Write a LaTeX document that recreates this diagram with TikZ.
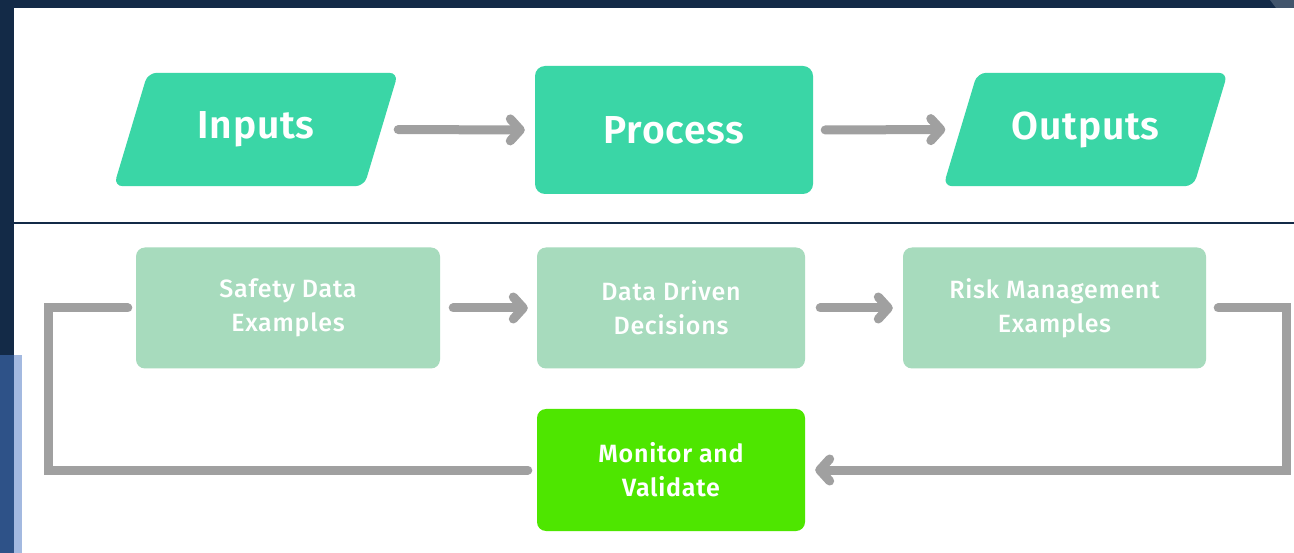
\documentclass[tikz,border=0pt]{standalone}
\usepackage{fontspec}
\setmainfont{Fira Sans}
\newfontfamily\semifont{Fira Sans SemiBold}
\newfontfamily\medfont{Fira Sans Medium}
\usepackage{tikz}
\usetikzlibrary{calc, arrows.meta, backgrounds}
\definecolor{navy}{HTML}{132A47}
\definecolor{midblue}{HTML}{2E5288}
\definecolor{paleblue}{HTML}{A3B9E0}
\definecolor{teal}{HTML}{3AD6A6}
\definecolor{mint}{HTML}{A7DBBD}
\definecolor{lime}{HTML}{4EE600}
\definecolor{pipe}{HTML}{A0A0A0}
\newcommand{\bigtxt}{\fontsize{39}{48}\semifont\addfontfeatures{LetterSpace=2}}
\newcommand{\smalltxt}{\fontsize{25}{34}\medfont\addfontfeatures{LetterSpace=3}}

\tikzset{
    slantbox/.style={rectangle, minimum width=250pt, minimum height=113pt,
        text=white, inner sep=0pt, font=\bigtxt},
    bigbox/.style={rectangle, rounded corners=10pt, fill=teal, text=white,
        minimum width=278pt, minimum height=128pt, font=\bigtxt},
    stepbox/.style={rectangle, rounded corners=9pt, fill=mint, text=white,
        minimum height=121pt, align=center, font=\smalltxt},
    flow/.style={draw=pipe, line width=9pt, line cap=round, line join=miter,
        -{Straight Barb[length=10pt, width=22pt, round]}},
    loop/.style={draw=pipe, line width=9pt, line cap=round, line join=miter}
}

\begin{document}
\begin{tikzpicture}[x=1pt, y=-1pt]
    \useasboundingbox (0,0) rectangle (1294,553);
    % backdrop
    \begin{scope}[on background layer]
        \fill[navy] (0,0) rectangle (1294,553);
        \fill[navy!80!white] (1270,0) -- (1294,0) -- (1294,8) -- (1276,8) -- cycle;
        \fill[midblue] (0,355) rectangle (14,553);
        \fill[paleblue] (14,355) rectangle (22,553);
        \fill[white] (14,8) rectangle (1294,355);
        \fill[white] (22,355) rectangle (1294,553);
        \draw[navy, line width=1.5pt] (14,223) -- (1294,223);
    \end{scope}

    % top row
    \node[slantbox] (inputs) at (256,129.5) {Inputs};
    \node[bigbox] (process) at (674,130) {Process};
    \node[slantbox] (outputs) at (1085.5,129.5) {Outputs};
    \begin{scope}[on background layer]
        \foreach \p in {inputs, outputs} {
            \fill[teal, rounded corners=9pt]
                ($(\p.south west)+(-17,0)$) -- ($(\p.south east)+(-17,0)$)
                -- ($(\p.north east)+(17,0)$) -- ($(\p.north west)+(17,0)$) -- cycle;
        }
    \end{scope}
    \draw[flow, shorten <=17pt, shorten >=10pt] (inputs.east) -- (process.west);
    \draw[flow, shorten <=12pt, shorten >=15pt] (process.east) -- (outputs.west);

    % bottom row
    \node[stepbox, minimum width=304pt] (safety) at (288,308) {Safety Data\\Examples};
    \node[stepbox, minimum width=268pt] (decide) at (671,308) {Data Driven\\Decisions};
    \node[stepbox, minimum width=303pt] (risk) at (1054.5,308) {Risk Management\\Examples};
    \node[stepbox, minimum width=268pt, minimum height=122pt, fill=lime,
        font=\fontsize{25}{34}\semifont\addfontfeatures{LetterSpace=3}]
        (monitor) at (671,470) {Monitor and\\Validate};
    \draw[flow, shorten <=13pt, shorten >=9pt] (safety.east) -- (decide.west);
    \draw[flow, shorten <=15pt, shorten >=10pt] (decide.east) -- (risk.west);

    % feedback loop
    \draw[flow, shorten <=12pt, shorten >=10pt] (risk.east) -- ++(80,0) |- (monitor.east);
    \draw[loop, shorten <=9pt, shorten >=8pt] (monitor.west) -- ++(-488,0) |- (safety.west);
\end{tikzpicture}
\end{document}
